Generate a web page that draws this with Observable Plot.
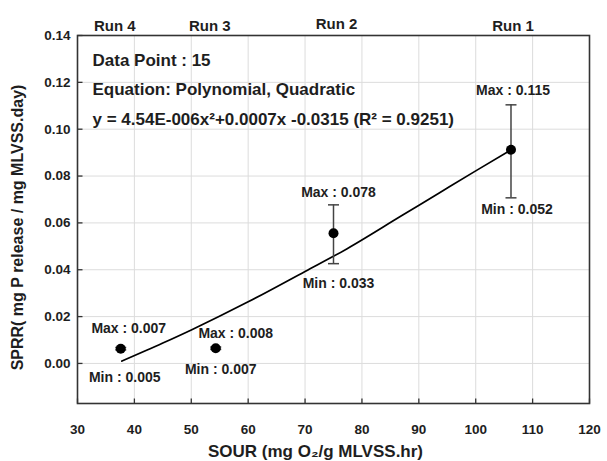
<!DOCTYPE html>
<html>
<head>
<meta charset="utf-8">
<script src="https://cdn.jsdelivr.net/npm/d3@7"></script>
<script src="https://cdn.jsdelivr.net/npm/@observablehq/plot@0.6"></script>
<style>
  html, body { margin: 0; padding: 0; background: #fff; }
  #chart svg { display: block; }
</style>
</head>
<body>
<div id="chart"></div>
<script>
// ---- data ----
const runs = ["Run 4", "Run 3", "Run 2", "Run 1"];
const sour = [37.6, 54.3, 75.0, 106.2];          // x: SOUR
const sprr = [0.0063, 0.0065, 0.0556, 0.0912];   // y: mean SPRR
const errHigh = [0.0068, 0.0070, 0.0677, 0.1104];
const errLow = [0.0058, 0.0060, 0.0426, 0.0707];
const maxVals = [0.007, 0.008, 0.078, 0.115];
const minVals = [0.005, 0.007, 0.033, 0.052];

// fitted quadratic curve
const curveX = [37.8, 45, 50, 60, 70, 77.4, 86.8, 93.8, 100, 106.2];
const curveY = [0.0010, 0.0087, 0.0143, 0.0263, 0.0393, 0.0490, 0.0628, 0.0731, 0.0822, 0.0912];

const xTicks = [30, 40, 50, 60, 70, 80, 90, 100, 110, 120];
const yTicks = [0, 0.02, 0.04, 0.06, 0.08, 0.10, 0.12, 0.14];

const infoLines = [
  "Data Point : 15",
  "Equation: Polynomial, Quadratic",
  "y = 4.54E-006x\u00B2+0.0007x -0.0315 (R\u00B2 = 0.9251)"
];
const xLabel = "SOUR (mg O\u2082/g MLVSS.hr)";
const yLabel = "SPRR( mg P release / mg MLVSS.day)";

// ---- layout offsets (pixels) ----
const maxOff = [[8, -20], [20, -15], [5, -41], [2, -59]];
const minOff = [[4, 29], [5, 21], [5, 50], [6, 60]];
const runOff = [[-6, -15], [-6, -15], [3, -17], [2, -15]];
const infoDy = [18, 47, 77];

const FONT = "'Liberation Sans', Arial, sans-serif";
const ink = "#1e1e1e";
const idx = runs.map((_, i) => i);

const capSymbol = {draw(c) { c.moveTo(-5.5, 0); c.lineTo(5.5, 0); }};
const xTickSymbol = {draw(c) { c.moveTo(0, 0); c.lineTo(0, -5); }};
const yTickSymbol = {draw(c) { c.moveTo(0, 0); c.lineTo(5, 0); }};

const marks = [
  Plot.ruleX(xTicks, {x: d => d, stroke: "#dcdcdc", strokeWidth: 1}),
  Plot.ruleY(yTicks, {y: d => d, stroke: "#dcdcdc", strokeWidth: 1}),
  Plot.dot(xTicks, {x: d => d, frameAnchor: "bottom", symbol: xTickSymbol, r: 5, stroke: "#333", strokeWidth: 1.3, fill: "none"}),
  Plot.dot(yTicks, {y: d => d, frameAnchor: "left", symbol: yTickSymbol, r: 5, stroke: "#333", strokeWidth: 1.3, fill: "none"}),
  Plot.axisX({ticks: xTicks, tickSize: 0, tickPadding: 21, fontSize: 13.5, fontWeight: "bold", fill: ink, label: null}),
  Plot.axisY({ticks: yTicks, tickSize: 0, tickPadding: 7, tickFormat: d3.format(".2f"), fontSize: 13.5, fontWeight: "bold", fill: ink, label: null}),
  Plot.line(curveX.map((x, i) => ({x, y: curveY[i]})), {x: "x", y: "y", curve: "monotone-x", stroke: "#000", strokeWidth: 1.7}),
  Plot.ruleX(idx, {x: i => sour[i], y1: i => errLow[i], y2: i => errHigh[i], stroke: "#444", strokeWidth: 1.5}),
  Plot.dot(idx, {x: i => sour[i], y: i => errHigh[i], symbol: capSymbol, r: 5, stroke: "#444", strokeWidth: 1.5, fill: "none"}),
  Plot.dot(idx, {x: i => sour[i], y: i => errLow[i], symbol: capSymbol, r: 5, stroke: "#444", strokeWidth: 1.5, fill: "none"}),
  Plot.dot(idx, {x: i => sour[i], y: i => sprr[i], r: 5, fill: "#000", stroke: "none"}),
  ...idx.map(i => Plot.text([i], {x: i => sour[i], y: i => sprr[i], text: i => `Max : ${maxVals[i].toFixed(3)}`, dx: maxOff[i][0], dy: maxOff[i][1], fontSize: 14, fontWeight: "bold", fill: ink})),
  ...idx.map(i => Plot.text([i], {x: i => sour[i], y: i => sprr[i], text: i => `Min : ${minVals[i].toFixed(3)}`, dx: minOff[i][0], dy: minOff[i][1], fontSize: 14, fontWeight: "bold", fill: ink})),
  ...idx.map(i => Plot.text([i], {x: i => sour[i], frameAnchor: "top", text: i => runs[i], dx: runOff[i][0], dy: runOff[i][1], fontSize: 15, fontWeight: "bold", fill: ink})),
  ...infoLines.map((t, k) => Plot.text([t], {frameAnchor: "top-left", text: d => d, dx: 15, dy: infoDy[k], textAnchor: "start", fontSize: 17, fontWeight: "bold", fill: ink})),
  Plot.text([xLabel], {frameAnchor: "bottom", text: d => d, dx: -18, dy: 53, fontSize: 17, fontWeight: "bold", fill: ink}),
  Plot.text([yLabel], {frameAnchor: "left", text: d => d, textAnchor: "middle", rotate: -90, dx: -60, dy: 8, fontSize: 16, fontWeight: "bold", fill: ink}),
  Plot.frame({stroke: "#333", strokeWidth: 1.6})
];

const chart = Plot.plot({
  width: 607,
  height: 461,
  marginLeft: 77,
  marginRight: 18,
  marginTop: 35,
  marginBottom: 58,
  x: {domain: [30, 120], axis: null},
  y: {domain: [-0.0171, 0.14], axis: null},
  style: {fontFamily: FONT, fontSize: "13px", color: ink, background: "#fff"},
  marks
});
document.getElementById("chart").appendChild(chart);
</script>
</body>
</html>
